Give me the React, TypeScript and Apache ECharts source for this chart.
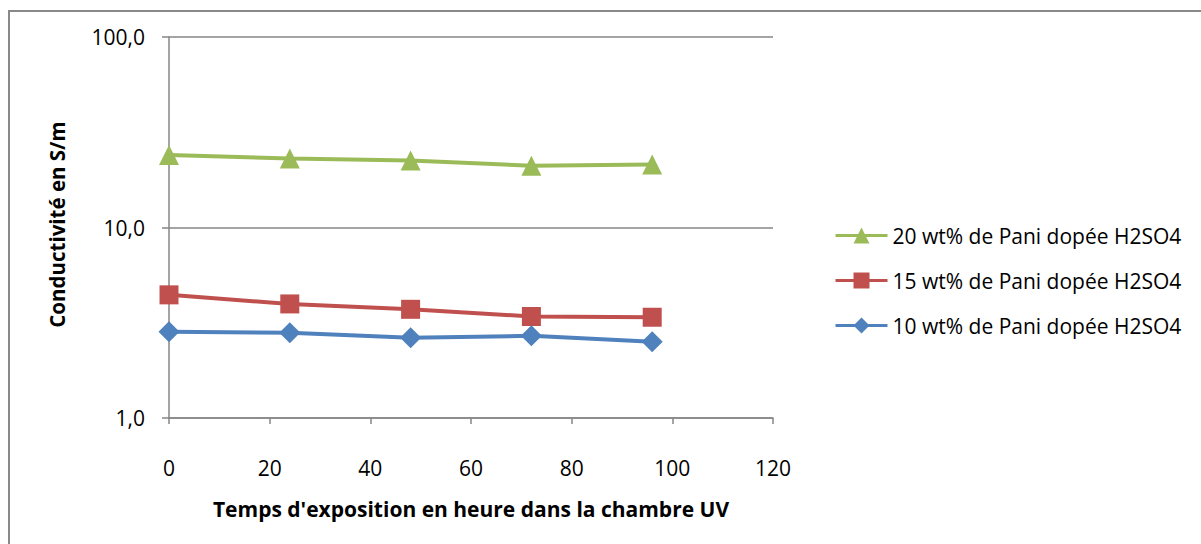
import React, { useEffect, useRef } from "react";
import * as echarts from "echarts";

const hours = [0, 24, 48, 72, 96];
const series20 = [24.0, 23.0, 22.5, 21.1, 21.4];
const series15 = [4.43, 3.97, 3.72, 3.41, 3.38];
const series10 = [2.84, 2.8, 2.64, 2.7, 2.51];
const names = [
  "20 wt% de Pani dopée H2SO4",
  "15 wt% de Pani dopée H2SO4",
  "10 wt% de Pani dopée H2SO4",
];
const xTitle = "Temps d'exposition en heure dans la chambre UV";
const yTitle = "Conductivité en S/m";

const FONT = "'Open Sans', 'DejaVu Sans', sans-serif";

export default function App() {
  const ref = useRef<HTMLDivElement>(null);
  useEffect(() => {
    if (!ref.current) return;
    const chart = echarts.init(ref.current, undefined, { renderer: "svg" });
    const pts = (vals: number[]) => hours.map((h, i) => [h, vals[i]]);
    const mk = (name: string, vals: number[], color: string, symbol: string, size: number) => ({
      name,
      type: "line",
      data: pts(vals),
      symbol,
      symbolSize: size,
      showSymbol: true,
      lineStyle: { color, width: 4 },
      itemStyle: { color },
    });
    chart.setOption({
      animation: false,
      textStyle: { fontFamily: FONT },
      grid: { left: 169, right: 428, top: 37, bottom: 126 },
      graphic: [
        {
          type: "rect",
          shape: { x: 9, y: 11, width: 1300, height: 700 },
          style: { fill: "none", stroke: "#898989", lineWidth: 2 },
          silent: true,
        },
      ],
      legend: {
        orient: "vertical",
        left: 829,
        top: 220,
        itemWidth: 52,
        itemHeight: 20,
        itemGap: 24,
        data: names,
        lineStyle: { width: 3 },
        textStyle: { fontFamily: FONT, fontSize: 21, color: "#000" },
      },
      xAxis: {
        type: "value",
        min: 0,
        max: 120,
        interval: 20,
        name: xTitle,
        nameLocation: "middle",
        nameGap: 80,
        nameTextStyle: { fontFamily: FONT, fontSize: 21, fontWeight: "bold", color: "#000" },
        axisLine: { show: true, lineStyle: { color: "#868686", width: 1.5 } },
        axisTick: { show: true, length: 6, lineStyle: { color: "#868686", width: 1.5 } },
        axisLabel: { margin: 39, fontFamily: FONT, fontSize: 21, color: "#000" },
        splitLine: { show: false },
      },
      yAxis: {
        type: "log",
        logBase: 10,
        min: 1,
        max: 100,
        name: yTitle,
        nameLocation: "middle",
        nameRotate: 90,
        nameGap: 102,
        nameTextStyle: {
          fontFamily: FONT,
          fontSize: 20.5,
          fontWeight: "bold",
          color: "#000",
          padding: [0, 0, 0, 6],
        },
        axisLine: { show: true, lineStyle: { color: "#868686", width: 1.5 } },
        axisTick: { show: true, length: 7, lineStyle: { color: "#868686", width: 1.5 } },
        axisLabel: {
          margin: 24,
          fontFamily: FONT,
          fontSize: 21,
          color: "#000",
          padding: [6, 0, 0, 0],
          formatter: (v: number) => v.toFixed(1).replace(".", ","),
        },
        splitLine: { show: true, lineStyle: { color: "#868686", width: 1.5 } },
        minorTick: { show: false },
      },
      series: [
        mk(names[0], series20, "#9BBB59", "triangle", 20),
        mk(names[1], series15, "#C0504D", "rect", 19),
        mk(names[2], series10, "#4F81BD", "diamond", 21),
      ],
    });
    return () => chart.dispose();
  }, []);
  return (
    <div
      ref={ref}
      style={{ position: "absolute", left: 0, top: 0, width: 1201, height: 544, background: "#fff" }}
    />
  );
}
